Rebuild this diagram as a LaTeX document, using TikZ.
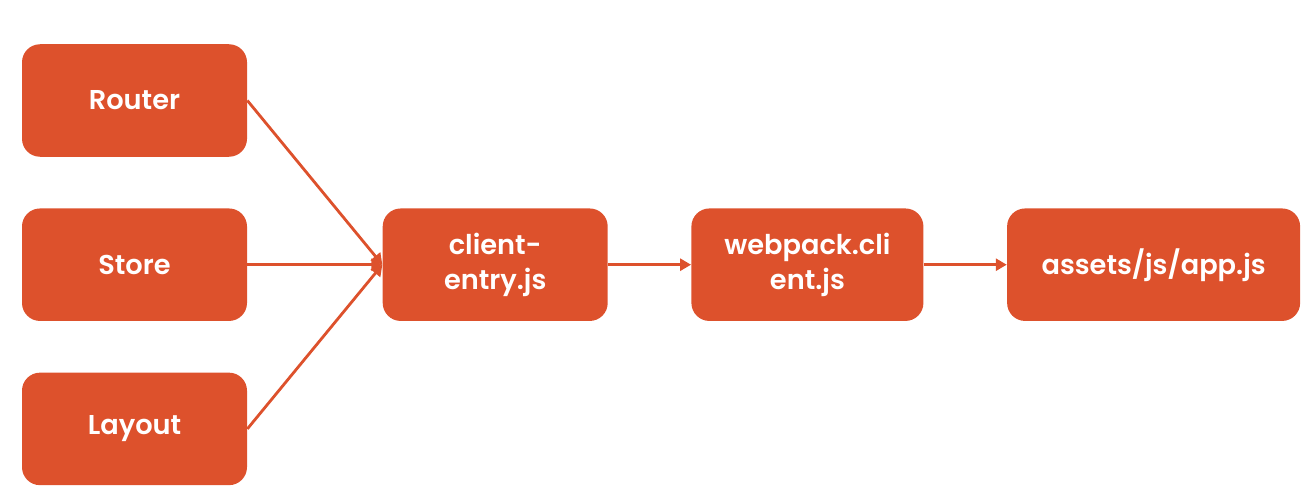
\documentclass[tikz,border=0pt]{standalone}
\usepackage{fontspec}
\setmainfont{Poppins}[BoldFont={Poppins SemiBold}]
\usepackage{tikz}
\usetikzlibrary{arrows.meta, positioning}
\definecolor{boxorange}{RGB}{221,81,44}

\begin{document}
\begin{tikzpicture}[
  node distance=1.02cm and 2.7cm,
  box/.style={rectangle, rounded corners=0.36cm, fill=boxorange, text=white,
    minimum height=2.25cm, minimum width=4.5cm, align=center,
    font=\fontsize{15.5}{20}\selectfont\bfseries},
  arrow/.style={-{Triangle[length=2.2mm, width=2.4mm]}, draw=boxorange, line width=1.6pt}
]
  \useasboundingbox (0,0) rectangle (26.22,9.98);

  % Sources
  \node[box] (router) at (2.69,7.97) {Router};
  \node[box, below=of router] (store) {Store};
  \node[box, below=of store] (layout) {Layout};

  % Build chain
  \node[box, right=of store] (client) {client-\\entry.js};
  \node[box, minimum width=4.64cm, right=1.66cm of client] (webpack) {webpack.cli\\ent.js};
  \node[box, minimum width=5.86cm, right=1.66cm of webpack] (assets) {assets/js/app.js};

  \draw[arrow] (router.east) -- (client.west);
  \draw[arrow] (store.east) -- (client.west);
  \draw[arrow] (layout.east) -- (client.west);
  \draw[arrow] (client) -- (webpack);
  \draw[arrow] (webpack) -- (assets);
\end{tikzpicture}
\end{document}
